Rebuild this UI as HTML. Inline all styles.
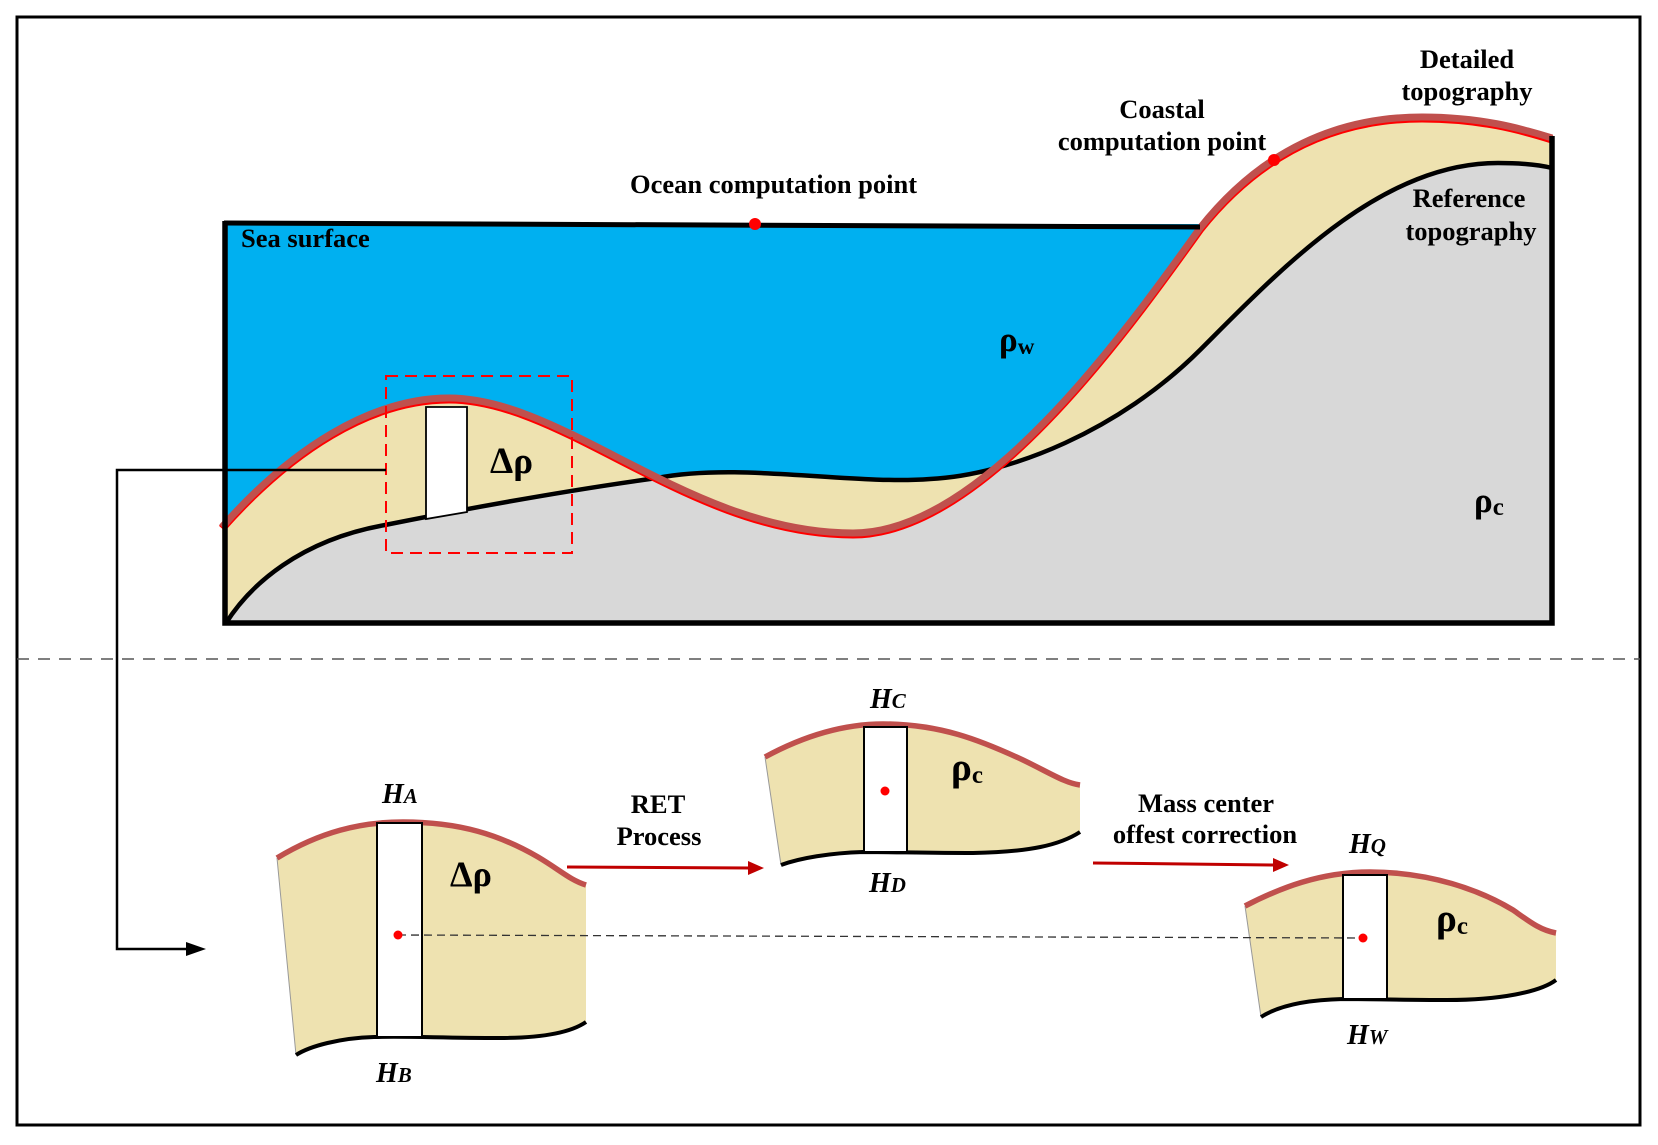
<!DOCTYPE html>
<html>
<head>
<meta charset="utf-8">
<style>
  html,body{margin:0;padding:0;background:#fff;}
  svg{display:block;}
  .t{font-family:"Liberation Serif","Times New Roman",serif;font-weight:bold;fill:#000;}
  .h{font-family:"Liberation Serif","Times New Roman",serif;font-weight:bold;font-style:italic;fill:#000;}
</style>
</head>
<body>
<svg width="1658" height="1145" viewBox="0 0 1658 1145" xmlns="http://www.w3.org/2000/svg">
  <defs>
    <clipPath id="belowRed">
      <path d="M222,527 C290,450 370,398 449,398 C565,398 690,533 853,533 C980,533 1120,340 1200,228 C1250,165 1320,117 1422,117 C1480,117 1520,128 1552,138 L1552,623 L224,623 Z"/>
    </clipPath>
  </defs>

  <!-- outer border -->
  <rect x="17" y="17" width="1623" height="1108" fill="#fff" stroke="#000" stroke-width="3"/>

  <!-- ===== TOP PANEL ===== -->
  <rect x="225" y="224" width="975" height="399" fill="#00B0F0"/>
  <path d="M222,527 C290,450 370,398 449,398 C565,398 690,533 853,533 C980,533 1120,340 1200,228 C1250,165 1320,117 1422,117 C1480,117 1520,128 1552,138 L1552,623 L224,623 Z" fill="#EEE2B0"/>
  <path d="M226,623 C250,585 300,540 385,525 C470,508 570,490 657,478 C740,462 850,485 930,479 C1010,475 1120,430 1200,350 C1280,270 1380,163 1498,163 C1520,163 1540,165 1552,168 L1552,623 Z" fill="#EEE2B0"/>
  <path clip-path="url(#belowRed)" d="M226,623 C250,585 300,540 385,525 C470,508 570,490 657,478 C740,462 850,485 930,479 C1010,475 1120,430 1200,350 C1280,270 1380,163 1498,163 C1520,163 1540,165 1552,168 L1552,623 Z" fill="#D8D8D8"/>

  <!-- reference curve -->
  <path d="M226,623 C250,585 300,540 385,525 C470,508 570,490 657,478 C740,462 850,485 930,479 C1010,475 1120,430 1200,350 C1280,270 1380,163 1498,163 C1520,163 1540,165 1552,168" fill="none" stroke="#000" stroke-width="4.5"/>
  <!-- detailed curve -->
  <path transform="translate(0,1.5)" d="M222,527 C290,450 370,398 449,398 C565,398 690,533 853,533 C980,533 1120,340 1200,228 C1250,165 1320,117 1422,117 C1480,117 1520,128 1552,138" fill="none" stroke="#FF0000" stroke-width="8"/>
  <path d="M222,527 C290,450 370,398 449,398 C565,398 690,533 853,533 C980,533 1120,340 1200,228 C1250,165 1320,117 1422,117 C1480,117 1520,128 1552,138" fill="none" stroke="#C0504D" stroke-width="7"/>

  <path d="M224,223 L1200,227" stroke="#000" stroke-width="5" fill="none"/>
  <path d="M225,221 L225,623 L1552,623 L1552,136" stroke="#000" stroke-width="5.5" fill="none" stroke-linejoin="miter"/>

  <polygon points="426,407 467,407 467,512 426,519" fill="#fff" stroke="#000" stroke-width="1.8"/>

  <rect x="386" y="376" width="186" height="177" fill="none" stroke="#FF0000" stroke-width="2" stroke-dasharray="12,7"/>

  <path d="M386,470 L117,470 L117,949 L188,949" fill="none" stroke="#000" stroke-width="2.5"/>
  <polygon points="186,942 206,949 186,956" fill="#000"/>

  <circle cx="755" cy="224" r="6" fill="#FF0000"/>
  <circle cx="1274" cy="160" r="6" fill="#FF0000"/>

  <text class="t" x="241" y="247" font-size="26.5">Sea surface</text>
  <text class="t" x="630" y="193" font-size="26.5">Ocean computation point</text>
  <text class="t" x="1162" y="118" font-size="26.5" text-anchor="middle">Coastal</text>
  <text class="t" x="1162" y="150" font-size="26.5" text-anchor="middle">computation point</text>
  <text class="t" x="1467" y="68" font-size="26.5" text-anchor="middle">Detailed</text>
  <text class="t" x="1467" y="100" font-size="26.5" text-anchor="middle">topography</text>
  <text class="t" x="1469" y="207" font-size="26.5" text-anchor="middle">Reference</text>
  <text class="t" x="1471" y="240" font-size="26.5" text-anchor="middle">topography</text>

  <text class="t" x="490" y="473" font-size="37">Δρ</text>
  <text class="t" x="999" y="351" font-size="35">ρ<tspan font-size="23" dy="3">w</tspan></text>
  <text class="t" x="1474" y="512" font-size="35">ρ<tspan font-size="25" dy="3">c</tspan></text>

  <line x1="17" y1="659" x2="1640" y2="659" stroke="#555" stroke-width="1.5" stroke-dasharray="12,9"/>

  <!-- ===== BOTTOM PANEL ===== -->
  <path d="M277,858 C320,832 360,822 403,822 C460,822 500,835 538,857 C560,870 570,880 586,885 L586,1022 C570,1033 540,1038 500,1038 C440,1038 410,1036 374,1037 C340,1038 310,1046 296,1055 Z" fill="#EEE2B0"/>
  <line x1="277" y1="858" x2="296" y2="1055" stroke="#999" stroke-width="1"/>
  <path d="M277,858 C320,832 360,822 403,822 C460,822 500,835 538,857 C560,870 570,880 586,885" fill="none" stroke="#C0504D" stroke-width="5.5"/>
  <path d="M586,1022 C570,1033 540,1038 500,1038 C440,1038 410,1036 374,1037 C340,1038 310,1046 296,1055" fill="none" stroke="#000" stroke-width="4"/>
  <rect x="377" y="823" width="45" height="214" fill="#fff" stroke="#000" stroke-width="2"/>
  <text class="t" x="450" y="886" font-size="36">Δρ</text>
  <text class="h" x="382" y="803" font-size="28">H<tspan font-size="21">A</tspan></text>
  <text class="h" x="376" y="1082" font-size="28">H<tspan font-size="21">B</tspan></text>

  <text class="t" x="658" y="813" font-size="26.5" text-anchor="middle">RET</text>
  <text class="t" x="659" y="845" font-size="26.5" text-anchor="middle">Process</text>
  <line x1="567" y1="867" x2="750" y2="868" stroke="#C00000" stroke-width="3"/>
  <polygon points="748,861 764,868 748,875" fill="#C00000"/>

  <path d="M765,757 C800,738 840,724 883,724 C940,724 980,740 1023,760 C1050,773 1065,783 1080,785 L1080,832 C1060,845 1030,852 973,853 C930,853 890,852 863,852 C830,853 800,858 781,865 Z" fill="#EEE2B0"/>
  <line x1="765" y1="757" x2="781" y2="865" stroke="#999" stroke-width="1"/>
  <path d="M765,757 C800,738 840,724 883,724 C940,724 980,740 1023,760 C1050,773 1065,783 1080,785" fill="none" stroke="#C0504D" stroke-width="5.5"/>
  <path d="M1080,832 C1060,845 1030,852 973,853 C930,853 890,852 863,852 C830,853 800,858 781,865" fill="none" stroke="#000" stroke-width="4"/>
  <rect x="864" y="727" width="43" height="125" fill="#fff" stroke="#000" stroke-width="2"/>
  <circle cx="885" cy="791" r="4.5" fill="#FF0000"/>
  <text class="t" x="951" y="780" font-size="39">ρ<tspan font-size="25" dy="3">c</tspan></text>
  <text class="h" x="870" y="708" font-size="28">H<tspan font-size="21">C</tspan></text>
  <text class="h" x="869" y="892" font-size="28">H<tspan font-size="21">D</tspan></text>

  <text class="t" x="1206" y="812" font-size="26.5" text-anchor="middle">Mass center</text>
  <text class="t" x="1205" y="843" font-size="26.5" text-anchor="middle">offest correction</text>
  <line x1="1093" y1="863" x2="1275" y2="865" stroke="#C00000" stroke-width="3"/>
  <polygon points="1273,858 1289,865 1273,872" fill="#C00000"/>

  <path d="M1245,906 C1280,888 1320,872 1370,872 C1430,872 1480,890 1513,910 C1530,922 1540,930 1556,933 L1556,980 C1540,992 1500,1000 1447,1000 C1400,1000 1370,999 1343,999 C1300,1000 1275,1008 1261,1017 Z" fill="#EEE2B0"/>
  <line x1="1245" y1="906" x2="1261" y2="1017" stroke="#999" stroke-width="1"/>
  <path d="M1245,906 C1280,888 1320,872 1370,872 C1430,872 1480,890 1513,910 C1530,922 1540,930 1556,933" fill="none" stroke="#C0504D" stroke-width="5.5"/>
  <path d="M1556,980 C1540,992 1500,1000 1447,1000 C1400,1000 1370,999 1343,999 C1300,1000 1275,1008 1261,1017" fill="none" stroke="#000" stroke-width="4"/>
  <rect x="1343" y="875" width="44" height="124" fill="#fff" stroke="#000" stroke-width="2"/>
  <text class="t" x="1436" y="931" font-size="39">ρ<tspan font-size="25" dy="3">c</tspan></text>
  <text class="h" x="1349" y="853" font-size="28">H<tspan font-size="21">Q</tspan></text>
  <text class="h" x="1347" y="1044" font-size="28">H<tspan font-size="21">W</tspan></text>

  <line x1="398" y1="935" x2="1363" y2="938" stroke="#333" stroke-width="1.3" stroke-dasharray="8,5"/>
  <circle cx="398" cy="935" r="4.5" fill="#FF0000"/>
  <circle cx="1363" cy="938" r="4.5" fill="#FF0000"/>
</svg>
</body>
</html>
